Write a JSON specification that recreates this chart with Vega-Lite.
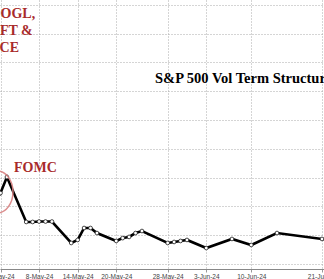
{
  "$schema": "https://vega.github.io/schema/vega-lite/v6.json",
  "width": 324,
  "height": 269,
  "autosize": {"type": "none"},
  "padding": {"left": 0, "top": 0, "right": 0, "bottom": 10},
  "background": "white",
  "config": {"view": {"stroke": null}},
  "datasets": {
    "series": [
      {"date": "2024-05-01", "v": 0.822},
      {"date": "2024-05-02", "v": 0.8293},
      {"date": "2024-05-03", "v": 0.8404},
      {"date": "2024-05-06", "v": 0.8092},
      {"date": "2024-05-07", "v": 0.8092},
      {"date": "2024-05-08", "v": 0.8095},
      {"date": "2024-05-09", "v": 0.8095},
      {"date": "2024-05-10", "v": 0.8095},
      {"date": "2024-05-13", "v": 0.7946},
      {"date": "2024-05-14", "v": 0.7967},
      {"date": "2024-05-15", "v": 0.805},
      {"date": "2024-05-16", "v": 0.805},
      {"date": "2024-05-17", "v": 0.8015},
      {"date": "2024-05-20", "v": 0.796},
      {"date": "2024-05-21", "v": 0.798},
      {"date": "2024-05-22", "v": 0.7988},
      {"date": "2024-05-23", "v": 0.8015},
      {"date": "2024-05-24", "v": 0.8029},
      {"date": "2024-05-28", "v": 0.7946},
      {"date": "2024-05-29", "v": 0.7953},
      {"date": "2024-05-30", "v": 0.796},
      {"date": "2024-05-31", "v": 0.7967},
      {"date": "2024-06-03", "v": 0.7911},
      {"date": "2024-06-07", "v": 0.7974},
      {"date": "2024-06-10", "v": 0.7932},
      {"date": "2024-06-14", "v": 0.8015},
      {"date": "2024-06-21", "v": 0.7974},
      {"date": "2024-06-24", "v": 0.796}
    ],
    "notes": [
      {"date": "2024-05-03T00:15:00Z", "v": 0.9536, "label": "GOOGL,"},
      {"date": "2024-05-02T20:00:00Z", "v": 0.9418, "label": "MSFT &"},
      {"date": "2024-05-02T17:00:00Z", "v": 0.93, "label": "PCE"}
    ],
    "fomc": [{"date": "2024-05-04T02:24:00Z", "v": 0.8467, "label": "FOMC"}],
    "title": [{"date": "2024-05-26T00:45:00Z", "v": 0.9085, "label": "S&P 500 Vol Term Structure"}],
    "ring": [{"date": "2024-05-01T11:00:00Z", "v": 0.83}]
  },
  "encoding": {
    "x": {
      "field": "date",
      "type": "temporal",
      "scale": {
        "type": "utc",
        "domain": [
          {"year": 2024, "month": 5, "date": 1, "hours": 22, "minutes": 8, "utc": true},
          {"year": 2024, "month": 6, "date": 21, "hours": 7, "minutes": 28, "utc": true}
        ]
      },
      "axis": {
        "title": null,
        "values": [
          {"year": 2024, "month": 5, "date": 2, "utc": true},
          {"year": 2024, "month": 5, "date": 8, "utc": true},
          {"year": 2024, "month": 5, "date": 14, "utc": true},
          {"year": 2024, "month": 5, "date": 20, "utc": true},
          {"year": 2024, "month": 5, "date": 28, "utc": true},
          {"year": 2024, "month": 6, "date": 3, "utc": true},
          {"year": 2024, "month": 6, "date": 10, "utc": true},
          {"year": 2024, "month": 6, "date": 21, "utc": true}
        ],
        "format": "%-d-%b-%y",
        "grid": true,
        "gridDash": [1, 2],
        "gridColor": "#aaaaaa",
        "gridWidth": 1,
        "domainColor": "#888888",
        "domainWidth": 1,
        "tickSize": 3,
        "tickColor": "#999999",
        "labelFont": "Liberation Sans",
        "labelFontSize": 6.5,
        "labelColor": "#444444",
        "labelPadding": 1,
        "labelFlush": false,
        "labelOverlap": false,
        "labelBound": false
      }
    },
    "y": {
      "field": "v",
      "type": "quantitative",
      "scale": {"domain": [0.77653, 0.96333], "zero": false, "nice": false},
      "axis": {
        "title": null,
        "values": [0.78, 0.8, 0.82, 0.84, 0.86, 0.88, 0.9, 0.92, 0.94, 0.96],
        "labels": false,
        "ticks": false,
        "domain": false,
        "grid": true,
        "gridDash": [1, 2],
        "gridColor": "#aaaaaa"
      }
    }
  },
  "layer": [
    {
      "data": {"name": "series"},
      "mark": {"type": "line", "color": "black", "strokeWidth": 2.6, "clip": true}
    },
    {
      "data": {"name": "series"},
      "mark": {"type": "point", "filled": true, "fill": "white", "stroke": "#222222", "strokeWidth": 0.8, "size": 14, "opacity": 1, "clip": true}
    },
    {
      "data": {"name": "ring"},
      "mark": {"type": "point", "shape": "M -0.76 0 A 0.76 1 0 1 0 0.76 0 A 0.76 1 0 1 0 -0.76 0 Z", "size": 1764, "filled": false, "stroke": "#d98080", "strokeWidth": 1.5, "opacity": 0.9, "clip": true}
    },
    {
      "data": {"name": "notes"},
      "mark": {"type": "text", "font": "Liberation Serif", "fontWeight": "bold", "fontSize": 14, "color": "#a82a2a", "align": "center", "baseline": "middle"},
      "encoding": {"text": {"field": "label"}}
    },
    {
      "data": {"name": "fomc"},
      "mark": {"type": "text", "font": "Liberation Serif", "fontWeight": "bold", "fontSize": 14, "color": "#a82a2a", "align": "left", "baseline": "middle"},
      "encoding": {"text": {"field": "label"}}
    },
    {
      "data": {"name": "title"},
      "mark": {"type": "text", "font": "Liberation Serif", "fontWeight": "bold", "fontSize": 14.5, "color": "black", "align": "left", "baseline": "middle"},
      "encoding": {"text": {"field": "label"}}
    }
  ]
}
